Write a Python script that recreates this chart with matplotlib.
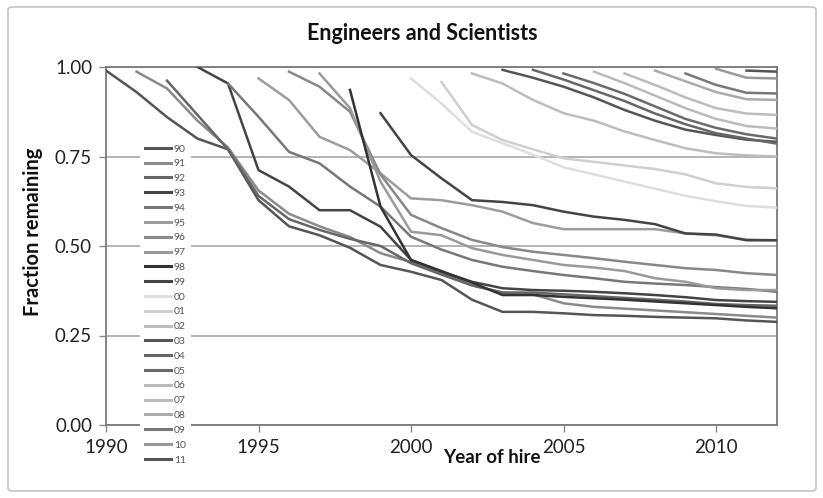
import matplotlib
matplotlib.use("Agg")
import matplotlib.pyplot as plt
from matplotlib.lines import Line2D
from matplotlib.patches import FancyBboxPatch

plt.rcParams['font.family'] = ['Lato', 'DejaVu Sans']

# fraction of each hiring cohort still employed, one value per year from hire year to 2012
labels = ['90', '91', '92', '93', '94', '95', '96', '97', '98', '99', '00',
          '01', '02', '03', '04', '05', '06', '07', '08', '09', '10', '11']
start_years = list(range(1990, 2012))

c90 = [0.99, 0.93, 0.86, 0.80, 0.77, 0.628, 0.555, 0.53, 0.495, 0.447, 0.428, 0.405,
       0.35, 0.316, 0.316, 0.312, 0.307, 0.305, 0.302, 0.30, 0.298, 0.292, 0.288]
c91 = [0.987, 0.94, 0.85, 0.775, 0.655, 0.59, 0.555, 0.525, 0.48, 0.455, 0.425, 0.39,
       0.37, 0.365, 0.34, 0.33, 0.325, 0.32, 0.315, 0.31, 0.305, 0.30]
c92 = [0.962, 0.866, 0.77, 0.64, 0.575, 0.545, 0.52, 0.50, 0.452, 0.42, 0.39, 0.37,
       0.37, 0.365, 0.36, 0.355, 0.35, 0.345, 0.338, 0.335, 0.333]
c93 = [1.0, 0.954, 0.712, 0.666, 0.60, 0.60, 0.554, 0.461, 0.428, 0.40, 0.382, 0.377,
       0.375, 0.372, 0.368, 0.363, 0.357, 0.349, 0.346, 0.344]
c94 = [0.954, 0.861, 0.763, 0.731, 0.666, 0.61, 0.526, 0.49, 0.461, 0.442, 0.43, 0.419,
       0.41, 0.40, 0.395, 0.391, 0.385, 0.38, 0.372]
c95 = [0.968, 0.908, 0.805, 0.768, 0.703, 0.633, 0.628, 0.614, 0.596, 0.564, 0.547,
       0.547, 0.547, 0.547, 0.535, 0.53, 0.518, 0.516]
c96 = [0.987, 0.945, 0.875, 0.70, 0.587, 0.55, 0.517, 0.497, 0.484, 0.475, 0.466,
       0.456, 0.447, 0.438, 0.433, 0.424, 0.419]
c97 = [0.982, 0.885, 0.68, 0.54, 0.53, 0.494, 0.475, 0.461, 0.447, 0.44, 0.43, 0.41,
       0.40, 0.382, 0.377, 0.377]
c98 = [0.936, 0.61, 0.461, 0.43, 0.398, 0.363, 0.363, 0.358, 0.354, 0.35, 0.345, 0.34,
       0.335, 0.33, 0.326]
c99 = [0.871, 0.754, 0.689, 0.628, 0.623, 0.614, 0.596, 0.582, 0.573, 0.561, 0.535,
       0.532, 0.516, 0.516]
c00 = [0.968, 0.898, 0.819, 0.787, 0.755, 0.72, 0.70, 0.68, 0.66, 0.64, 0.625, 0.612, 0.607]
c01 = [0.958, 0.838, 0.796, 0.77, 0.745, 0.735, 0.725, 0.715, 0.70, 0.675, 0.665, 0.661]
c02 = [0.982, 0.954, 0.908, 0.871, 0.85, 0.82, 0.796, 0.773, 0.759, 0.753, 0.75]
c03 = [0.992, 0.97, 0.945, 0.915, 0.88, 0.85, 0.825, 0.81, 0.797, 0.791]
c04 = [0.992, 0.965, 0.935, 0.905, 0.87, 0.84, 0.815, 0.80, 0.786]
c05 = [0.982, 0.955, 0.925, 0.89, 0.855, 0.83, 0.812, 0.80]
c06 = [0.987, 0.955, 0.92, 0.885, 0.855, 0.835, 0.828]
c07 = [0.982, 0.95, 0.915, 0.885, 0.87, 0.866]
c08 = [0.99, 0.96, 0.93, 0.91, 0.908]
c09 = [0.982, 0.95, 0.928, 0.926]
c10 = [0.995, 0.97, 0.968]
c11 = [0.99, 0.987]

cohorts = [c90, c91, c92, c93, c94, c95, c96, c97, c98, c99, c00,
           c01, c02, c03, c04, c05, c06, c07, c08, c09, c10, c11]

colors = ['#555555', '#8a8a8a', '#666666', '#444444', '#777777', '#9c9c9c',
          '#888888', '#9a9a9a', '#333333', '#444444', '#dedede', '#cfcfcf',
          '#bdbdbd', '#555555', '#666666', '#6a6a6a', '#bbbbbb', '#bcbcbc',
          '#aaaaaa', '#777777', '#999999', '#555555']

W, H = 823, 498
fig = plt.figure(figsize=(W / 100, H / 100), dpi=100)
ax = fig.add_axes([106 / W, 1 - 425 / H, 671 / W, 358 / H])

# outer chart frame
fig.patches.append(FancyBboxPatch((8 / W, 7 / H), 808 / W, 484 / H,
                                  boxstyle="round,pad=0,rounding_size=0.006",
                                  transform=fig.transFigure, fill=False,
                                  edgecolor='#c4c4c4', linewidth=1.2))

for i, vals in enumerate(cohorts):
    yrs = list(range(start_years[i], start_years[i] + len(vals)))
    ax.plot(yrs, vals, color=colors[i], linewidth=1.8, zorder=3)

ax.set_xlim(1990, 2012)
ax.set_ylim(0, 1)
ax.set_xticks([1990, 1995, 2000, 2005, 2010])
ax.set_yticks([0, 0.25, 0.5, 0.75, 1.0])
ax.set_yticklabels(['0.00', '0.25', '0.50', '0.75', '1.00'])
ax.yaxis.grid(True, color='#a0a0a0', linewidth=1.1)
ax.set_axisbelow(True)
for s in ax.spines.values():
    s.set_color('#7a7a7a')
    s.set_linewidth(1.3)
ax.tick_params(axis='both', direction='out', length=5, width=1, color='#8a8a8a',
               labelsize=13.5, labelcolor='#222222')
ax.tick_params(axis='x', pad=5)
ax.tick_params(axis='y', pad=5)

fig.text(422 / W, 1 - 33 / H, 'Engineers and Scientists', ha='center', va='center',
         fontsize=15.5, fontweight='bold', color='#111111')
fig.text(33 / W, 1 - 232 / H, 'Fraction remaining', ha='center', va='center',
         rotation=90, fontsize=14.5, fontweight='bold', color='#111111')
fig.text(492 / W, 1 - 457 / H, 'Year of hire', ha='center', va='center',
         fontsize=13.5, fontweight='bold', color='#111111')

leg = ax.legend([Line2D([], [], color=c, linewidth=2.2) for c in colors], labels,
                loc='upper left', bbox_to_anchor=(140 / W, 1 - 139 / H),
                bbox_transform=fig.transFigure, fontsize=7.5, frameon=True,
                facecolor='white', edgecolor='none', framealpha=1, fancybox=False,
                borderaxespad=0, borderpad=0.5, labelspacing=0.53,
                handlelength=2.5, handletextpad=0.25)
leg.set_zorder(10)
for t in leg.get_texts():
    t.set_color('#555555')

fig.savefig('out.png', dpi=100)
